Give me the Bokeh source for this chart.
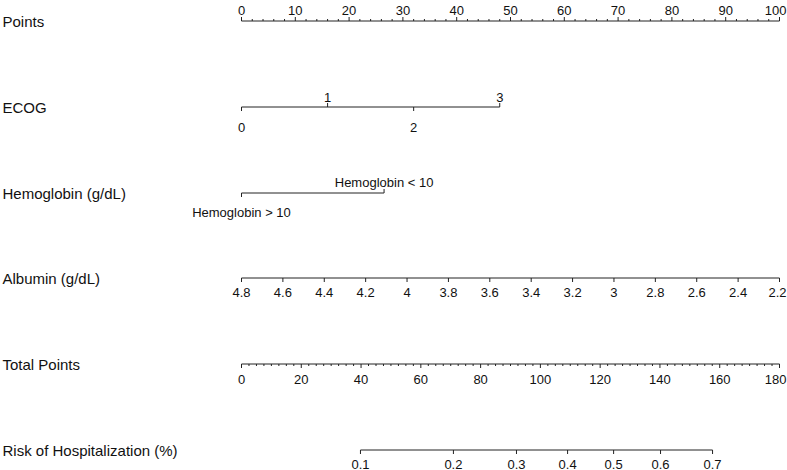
from bokeh.plotting import figure
from bokeh.models import Range1d, ColumnDataSource
from bokeh.embed import file_html
from bokeh.resources import INLINE
from bokeh.core.properties import value

# ---------------- data ----------------
row_labels = ["Points", "ECOG", "Hemoglobin (g/dL)", "Albumin (g/dL)",
              "Total Points", "Risk of Hospitalization (%)"]

points_major = list(range(0, 101, 10))
points_minor = [v for v in range(0, 101, 2) if v % 10 != 0]

ecog_levels = ["0", "1", "2", "3"]
ecog_points = [0, 16, 32, 48]

hgb_levels = ["Hemoglobin > 10", "Hemoglobin < 10"]
hgb_points = [0, 26.5]

albumin_labels = ["4.8", "4.6", "4.4", "4.2", "4", "3.8", "3.6", "3.4",
                  "3.2", "3", "2.8", "2.6", "2.4", "2.2"]
albumin_values = [4.8, 4.6, 4.4, 4.2, 4.0, 3.8, 3.6, 3.4, 3.2, 3.0, 2.8, 2.6, 2.4, 2.2]
albumin_at_zero_points = 4.8
albumin_at_max_points = 2.2

total_major = list(range(0, 181, 20))
total_minor = [v / 2 for v in range(0, 361, 5) if (v / 2) % 20 != 0]
total_points_max = 180

risk_labels = ["0.1", "0.2", "0.3", "0.4", "0.5", "0.6", "0.7"]
risk_total_points = [39.8, 70.9, 92.0, 109.1, 124.5, 140.2, 157.6]

# ---------------- layout ----------------
W, H = 787, 470
X0_PX, X100_PX = 241, 779
PX_PER_PT = (X100_PX - X0_PX) / 100.0
RIGHT_EDGE = (786 - X0_PX) / PX_PER_PT   # right-aligned end for last labels
FONT = "Liberation Sans"
LINE_COL = "#222222"
TXT_COL = "#111111"
ROW_Y = [20.5, 106.5, 192.5, 277.5, 363.5, 449.5]
MAJ, MIN = 4, 2
TICK_FS = "13px"

p = figure(width=W, height=H, output_backend="svg", toolbar_location=None,
           x_range=Range1d(-X0_PX / PX_PER_PT, (W - X0_PX) / PX_PER_PT),
           y_range=Range1d(H, 0), min_border=0, tools="")
p.xaxis.visible = False
p.yaxis.visible = False
p.grid.visible = False
p.outline_line_color = None
p.background_fill_color = "white"
p.border_fill_color = "white"


def hline(x0, x1, y):
    p.segment(x0=[x0], y0=[y], x1=[x1], y1=[y], line_color=LINE_COL, line_width=1)


def ticks(xs, y, length):
    p.segment(x0=xs, y0=[y] * len(xs), x1=xs, y1=[y + length] * len(xs),
              line_color=LINE_COL, line_width=1)


def labels(xs, texts, y, align="center"):
    src = ColumnDataSource(dict(x=xs, y=[y] * len(xs), t=texts))
    p.text(x="x", y="y", text="t", source=src, text_align=align,
           text_baseline="alphabetic", text_font=value(FONT),
           text_font_size=TICK_FS, text_color=TXT_COL)


def axis_labels(xs, texts, y):
    # last label kept inside the right edge of the page
    labels(xs[:-1], texts[:-1], y)
    if xs[-1] >= 99:
        labels([RIGHT_EDGE], texts[-1:], y, align="right")
    else:
        labels(xs[-1:], texts[-1:], y)


# row titles
lx = -X0_PX / PX_PER_PT + 2 / PX_PER_PT
p.text(x=[lx] * len(row_labels), y=ROW_Y, text=row_labels, text_align="left",
       text_baseline="middle", text_font=value(FONT), text_font_size="15px",
       text_color=TXT_COL)

# Points
y = ROW_Y[0]
hline(0, 100, y)
ticks(points_major, y, -MAJ)
ticks(points_minor, y, -MIN)
axis_labels(points_major, [str(v) for v in points_major], y - 10.5)

# ECOG (alternating labels, ticks toward labels)
y = ROW_Y[1]
hline(min(ecog_points), max(ecog_points), y)
below = [i for i in range(len(ecog_levels)) if i % 2 == 0]
above = [i for i in range(len(ecog_levels)) if i % 2 == 1]
ticks([ecog_points[i] for i in below], y, MAJ)
ticks([ecog_points[i] for i in above], y, -MAJ)
labels([ecog_points[i] for i in below], [ecog_levels[i] for i in below], y + 20)
labels([ecog_points[i] for i in above], [ecog_levels[i] for i in above], y - 9.5)

# Hemoglobin
y = ROW_Y[2]
hline(min(hgb_points), max(hgb_points), y)
ticks([hgb_points[0]], y, MAJ)
ticks([hgb_points[1]], y, -MAJ)
labels([hgb_points[0]], [hgb_levels[0]], y + 19.5)
labels([hgb_points[1]], [hgb_levels[1]], y - 10.5)

# Albumin
y = ROW_Y[3]
alb_pts = [(albumin_at_zero_points - v) / (albumin_at_zero_points - albumin_at_max_points) * 100
           for v in albumin_values]
hline(min(alb_pts), max(alb_pts), y)
ticks(alb_pts, y, MAJ)
axis_labels(alb_pts, albumin_labels, y + 14)

# Total points
y = ROW_Y[4]
scale = 100.0 / total_points_max
hline(0, 100, y)
ticks([v * scale for v in total_major], y, MAJ)
ticks([v * scale for v in total_minor], y, MIN)
axis_labels([v * scale for v in total_major], [str(v) for v in total_major], y + 15.5)

# Risk
y = ROW_Y[5]
rp = [v * scale for v in risk_total_points]
hline(min(rp), max(rp), y)
ticks(rp, y, MAJ)
labels(rp, risk_labels, y + 14)

open("out.html", "w").write(file_html(p, INLINE))
